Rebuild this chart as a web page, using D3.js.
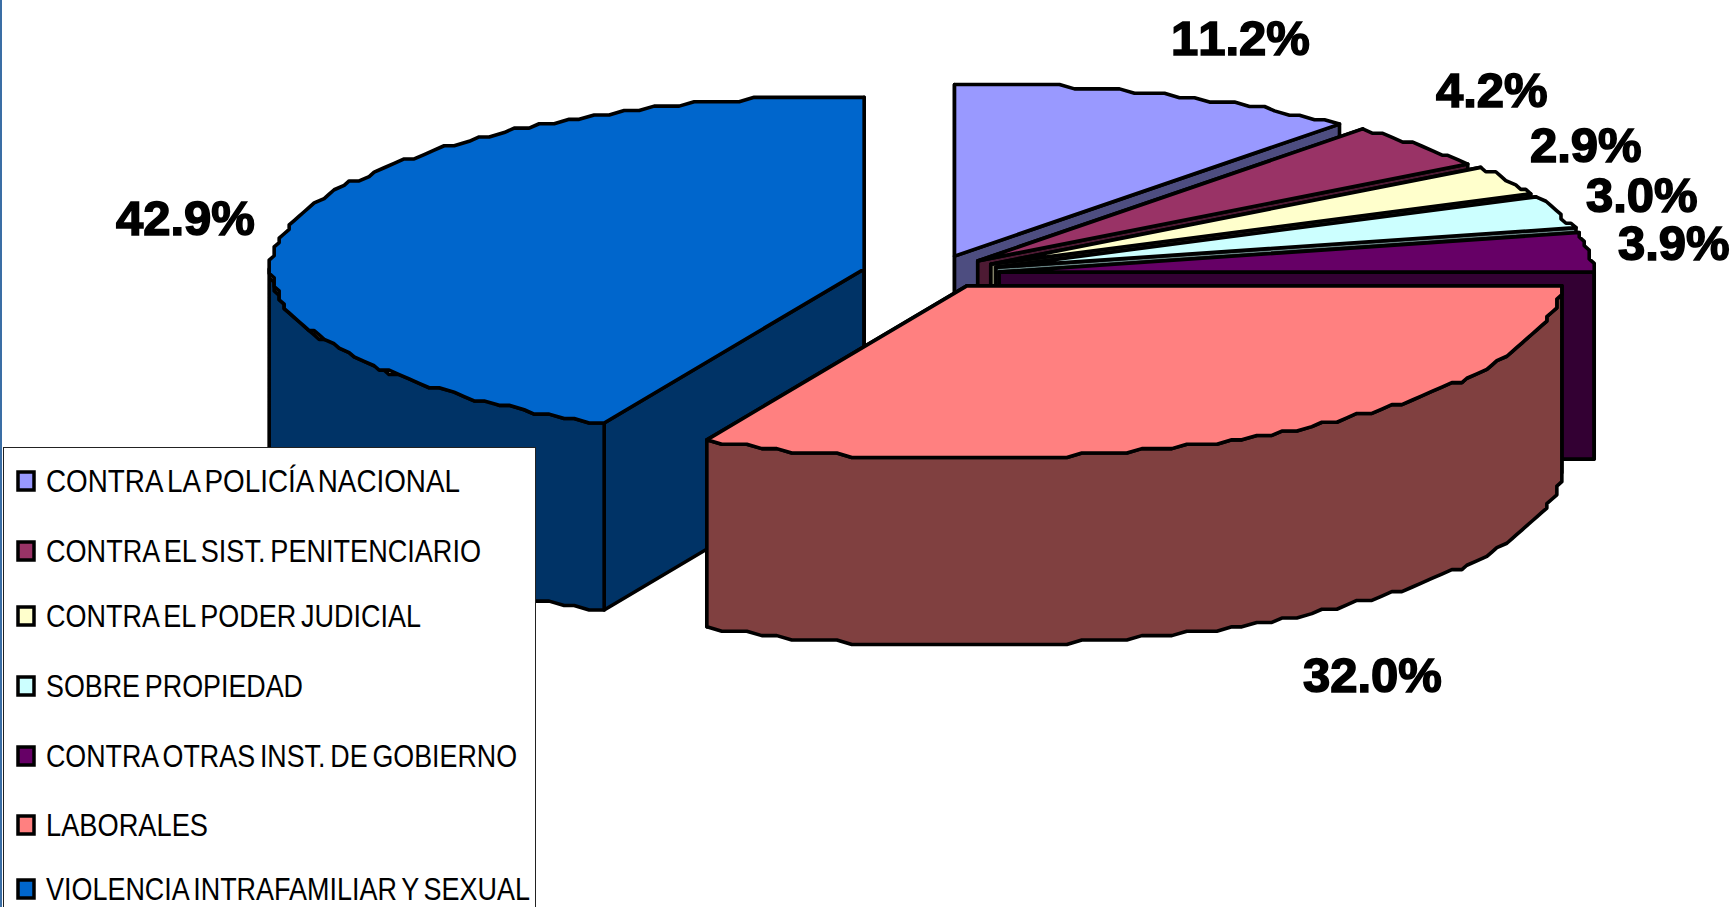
<!DOCTYPE html>
<meta charset="utf-8">
<style>
html, body { margin: 0; padding: 0; background: #fff; }
svg { display: block; }
text { font-family: "Liberation Sans", Arial, sans-serif; fill: #000; }
</style>
<svg width="1735" height="907"></svg>
<script src="https://d3js.org/d3.v7.min.js"></script>
<script>
var categories = ["CONTRA LA POLICÍA NACIONAL", "CONTRA EL SIST. PENITENCIARIO", "CONTRA EL PODER JUDICIAL",
  "SOBRE PROPIEDAD", "CONTRA OTRAS INST. DE GOBIERNO", "LABORALES", "VIOLENCIA INTRAFAMILIAR Y SEXUAL"];
// labels are rounded to one decimal, these also fit the slice angles in the picture
var values = [11.16, 4.24, 2.94, 3.04, 3.94, 32.04, 42.86];
var topColors = ["#9999ff", "#993366", "#ffffcc", "#ccffff", "#660066", "#ff8080", "#0066cc"];
var sideColors = ["#4d4d80", "#4d1a33", "#808066", "#668080", "#330033", "#804040", "#003366"];

// layout, full size px
var cx = 931, cy = 273, rx = 594, ry = 175, depth = 187;
var explodeX = 68.6, explodeY = 18;
var nudgeX = [0, -4, 0, 0, 0, 0, 0];
var nudgeY = [0, 0, 0, 0, 1, -2.5, 0];
var drawOrder = [0, 1, 2, 3, 4, 6, 5];
var labelPos = [[1171, 55], [1436, 107], [1530, 162], [1586, 212], [1618, 260], [1303, 692], [116, 235]];
var legendBaseline = [492, 562, 627, 697, 767, 836, 900];
var legendTextEnd = [460, 481, 421, 303, 517, 208, 530];

var svg = d3.select("svg");

var pie = d3.pie().sort(null).startAngle(0).endAngle(2 * Math.PI);
var arcs = pie(values);

var line = d3.line().curve(d3.curveLinear);
var fmt = d3.format(".1f");

// the original chart has stepped edges, so snap the rim to a coarse grid
function rim(a) {
  var x = rx * Math.sin(a), y = -ry * Math.cos(a);
  return [Math.round(x / 5) * 5, Math.trunc(y / 4.4) * 4.4];
}

function rimPoints(a0, a1) {
  var n = Math.max(1, Math.ceil((a1 - a0) / (Math.PI / 120)));
  return d3.range(n + 1).map(function(i) { return rim(a0 + (a1 - a0) * i / n); });
}

function shift(pts, dy) {
  return pts.map(function(p) { return [p[0], p[1] + dy]; });
}

var slices = svg.append("g").attr("class", "slices");

drawOrder.forEach(function(i) {
  var d = arcs[i];
  var mid = (d.startAngle + d.endAngle) / 2;
  var g = slices.append("g")
    .attr("transform", "translate(" + (cx + explodeX * Math.sin(mid) + nudgeX[i]) + "," + (cy - explodeY * Math.cos(mid) + nudgeY[i]) + ")")
    .attr("stroke", "#000")
    .attr("stroke-width", 3.6)
    .attr("stroke-linejoin", "round");

  function face(pts, color) {
    g.append("path").attr("d", line(pts) + "Z").attr("fill", color);
  }

  var side = sideColors[i];
  var pStart = rim(d.startAngle), pEnd = rim(d.endAngle);
  face([[0, 0], pStart, [pStart[0], pStart[1] + depth], [0, depth]], side);
  face([[0, 0], pEnd, [pEnd[0], pEnd[1] + depth], [0, depth]], side);

  // only the part of the wall facing us
  var w0 = Math.max(d.startAngle, Math.PI / 2), w1 = Math.min(d.endAngle, 3 * Math.PI / 2);
  if (w1 > w0) {
    var wall = rimPoints(w0, w1);
    face(wall.concat(shift(wall, depth).reverse()), side);
  }

  face([[0, 0]].concat(rimPoints(d.startAngle, d.endAngle)), topColors[i]);
});

// percent labels
svg.append("g").selectAll("text")
  .data(values)
  .enter().append("text")
    .attr("x", function(d, i) { return labelPos[i][0]; })
    .attr("y", function(d, i) { return labelPos[i][1]; })
    .attr("font-size", 49)
    .attr("font-weight", "bold")
    .style("font-kerning", "none")
    .attr("stroke", "#000")
    .attr("stroke-width", 1.6)
    .text(function(d) { return fmt(d) + "%"; });

// legend
svg.append("rect")
  .attr("x", 3.5).attr("y", 447.5)
  .attr("width", 532).attr("height", 470)
  .attr("fill", "#fff").attr("stroke", "#222").attr("stroke-width", 1);

var legend = svg.append("g").selectAll("g")
  .data(categories)
  .enter().append("g");

legend.append("rect")
  .attr("x", 18)
  .attr("y", function(d, i) { return legendBaseline[i] - 20; })
  .attr("width", 16).attr("height", 18)
  .attr("fill", function(d, i) { return topColors[i]; })
  .attr("stroke", "#000").attr("stroke-width", 3.5);

legend.append("text")
  .attr("x", 46)
  .attr("y", function(d, i) { return legendBaseline[i]; })
  .attr("font-size", 31)
  .attr("word-spacing", -3)
  .attr("textLength", function(d, i) { return legendTextEnd[i] - 46; })
  .attr("lengthAdjust", "spacingAndGlyphs")
  .text(function(d) { return d; });

// window edge on the left of the picture
svg.append("rect").attr("x", 0).attr("y", 0).attr("width", 2).attr("height", 907).attr("fill", "#3a6ea5");
</script>
